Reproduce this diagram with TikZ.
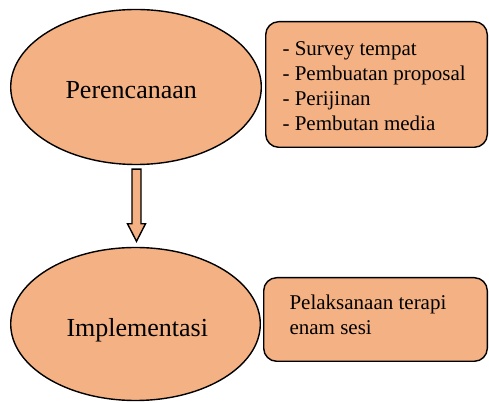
\documentclass[tikz,border=0pt]{standalone}
\usepackage{fontspec}
\setmainfont{Liberation Serif}
\usepackage{tikz}
\usetikzlibrary{shapes.geometric}
\usetikzlibrary{calc}
\definecolor{peach}{RGB}{244,177,131}
\tikzset{
  stage/.style={ellipse,draw=black,fill=peach,line width=1.4pt,inner sep=0pt},
  taskbox/.style={rectangle,rounded corners=13pt,draw=black,fill=peach,line width=1.4pt,inner sep=0pt},
  blockarrow/.style={draw=black,fill=peach,line width=1.4pt,line join=miter}
}
\newcommand{\stagefont}{\fontsize{26}{30}\selectfont}
\newcommand{\taskfont}{\fontsize{21}{25}\selectfont}
\begin{document}
\begin{tikzpicture}[line cap=round,x=1pt,y=1pt]
\useasboundingbox (0,0) rectangle (489,403);

\node[stage,minimum width=250.6pt,minimum height=155pt] (plan) at (136,316) {};
\node[stage,minimum width=249.6pt,minimum height=153pt] (impl) at (135.5,79) {};
\node[taskbox,minimum width=221.6pt,minimum height=125.6pt] (plantasks) at (376.5,318.5) {};
\node[taskbox,minimum width=223.6pt,minimum height=83.6pt] (impltasks) at (375.5,83.5) {};

\coordinate (a1) at ($(plan.south)+(0.5,-4)$);
\coordinate (a2) at ($(impl.north)+(1,5.5)$);
\draw[blockarrow] ($(a1)+(-4.5,0)$) -- ($(a1)+(4.5,0)$) -- ($(a2)+(4.5,17.5)$) -- ($(a2)+(9,17.5)$) -- (a2) -- ($(a2)+(-9,17.5)$) -- ($(a2)+(-4.5,17.5)$) -- cycle;

\draw (62,304) node[anchor=base west] {\stagefont Perencanaan};
\draw (63,66) node[anchor=base west] {\stagefont Implementasi};

\foreach \t [count=\i] in {Survey tempat,Pembuatan proposal,Perijinan,Pembutan media}
  \draw (279,372-25*\i) node[anchor=base west] {\taskfont - \t};

\draw (286,93) node[anchor=base west] {\taskfont Pelaksanaan terapi};
\draw (286,68) node[anchor=base west] {\taskfont enam sesi};

\end{tikzpicture}
\end{document}
